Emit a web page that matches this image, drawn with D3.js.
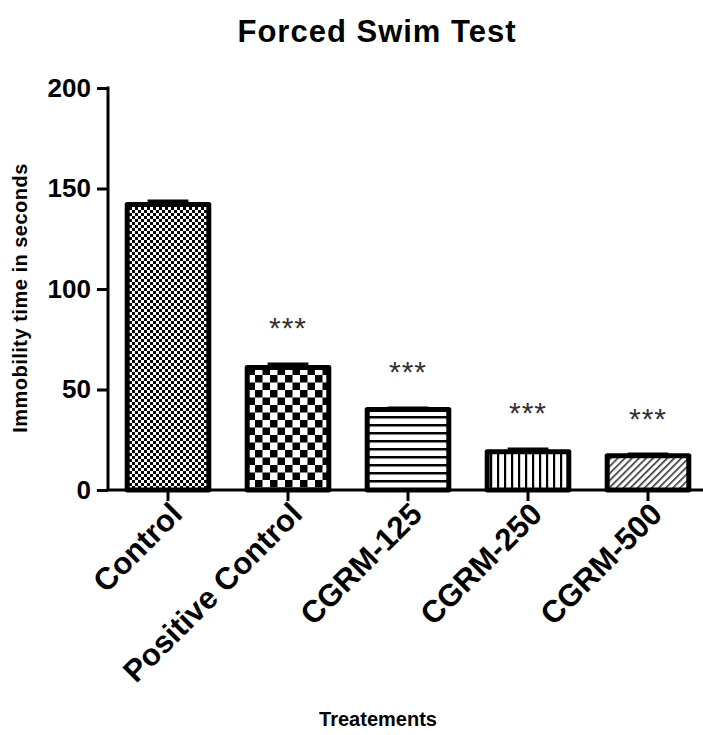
<!DOCTYPE html>
<html>
<head>
<meta charset="utf-8">
<script src="https://cdn.jsdelivr.net/npm/d3@7"></script>
<style>
  body { margin: 0; background: #fff; }
  svg { display: block; font-family: "Liberation Sans", Arial, sans-serif; }
</style>
</head>
<body>
<div id="chart"></div>
<script>
// data
const groups = ["Control", "Positive Control", "CGRM-125", "CGRM-250", "CGRM-500"];
const means = [142, 61, 40, 19, 17];
const errors = [1.5, 1.5, 0.6, 1.2, 0.6];
const stars = ["", "***", "***", "***", "***"];
const patterns = ["fineCheck", "bigCheck", "hLines", "vLines", "diag"];
const yTicks = [0, 50, 100, 150, 200];

const W = 703, H = 735;
const svg = d3.select("#chart").append("svg")
    .attr("width", W)
    .attr("height", H);

// fill patterns
const defs = svg.append("defs");
const fine = defs.append("pattern").attr("id", "fineCheck")
    .attr("patternUnits", "userSpaceOnUse").attr("width", 6).attr("height", 6);
fine.append("rect").attr("width", 6).attr("height", 6).attr("fill", "#fff");
fine.append("rect").attr("width", 3).attr("height", 3).attr("fill", "#000");
fine.append("rect").attr("x", 3).attr("y", 3).attr("width", 3).attr("height", 3).attr("fill", "#000");

const big = defs.append("pattern").attr("id", "bigCheck")
    .attr("patternUnits", "userSpaceOnUse").attr("width", 15).attr("height", 15);
big.append("rect").attr("width", 15).attr("height", 15).attr("fill", "#fff");
big.append("rect").attr("width", 7.5).attr("height", 7.5).attr("fill", "#000");
big.append("rect").attr("x", 7.5).attr("y", 7.5).attr("width", 7.5).attr("height", 7.5).attr("fill", "#000");

const hl = defs.append("pattern").attr("id", "hLines")
    .attr("patternUnits", "userSpaceOnUse").attr("width", 8).attr("height", 8);
hl.append("rect").attr("width", 8).attr("height", 8).attr("fill", "#fff");
hl.append("rect").attr("y", 0).attr("width", 8).attr("height", 2.5).attr("fill", "#000");

const vl = defs.append("pattern").attr("id", "vLines")
    .attr("patternUnits", "userSpaceOnUse").attr("width", 7).attr("height", 7);
vl.append("rect").attr("width", 7).attr("height", 7).attr("fill", "#fff");
vl.append("rect").attr("x", 0).attr("width", 2.2).attr("height", 7).attr("fill", "#000");

const dg = defs.append("pattern").attr("id", "diag")
    .attr("patternUnits", "userSpaceOnUse").attr("width", 5).attr("height", 5)
    .attr("patternTransform", "rotate(45)");
dg.append("rect").attr("width", 5).attr("height", 5).attr("fill", "#fff");
dg.append("rect").attr("width", 1.6).attr("height", 5).attr("fill", "#333");

// scales
const x = d3.scaleBand()
    .domain(groups)
    .range([108, 708])
    .paddingInner(0.32)
    .paddingOuter(0.16);

const y = d3.scaleLinear()
    .domain([0, 200])
    .range([490, 88]);

// bars
svg.selectAll(".bar")
    .data(groups)
    .enter()
    .append("rect")
    .attr("class", "bar")
    .attr("x", d => x(d))
    .attr("y", (d, i) => y(means[i]))
    .attr("width", x.bandwidth())
    .attr("height", (d, i) => y(0) - y(means[i]))
    .attr("fill", (d, i) => `url(#${patterns[i]})`)
    .attr("stroke", "#000")
    .attr("stroke-width", 5)
    .attr("stroke-linejoin", "round");

// error bars (upper only)
const cap = x.bandwidth() * 0.5;
groups.forEach((g, i) => {
    const cx = x(g) + x.bandwidth() / 2;
    svg.append("line")
        .attr("x1", cx).attr("x2", cx)
        .attr("y1", y(means[i])).attr("y2", y(means[i] + errors[i]))
        .attr("stroke", "#000").attr("stroke-width", 3);
    svg.append("line")
        .attr("x1", cx - cap / 2).attr("x2", cx + cap / 2)
        .attr("y1", y(means[i] + errors[i])).attr("y2", y(means[i] + errors[i]))
        .attr("stroke", "#000").attr("stroke-width", 4);
});

// significance stars
svg.selectAll(".star")
    .data(groups)
    .enter()
    .append("text")
    .attr("class", "star")
    .attr("x", d => x(d) + x.bandwidth() / 2)
    .attr("y", (d, i) => y(means[i] + errors[i]) - 26)
    .attr("text-anchor", "middle")
    .style("font-size", "30px")
    .style("fill", "#333")
    .style("letter-spacing", "1px")
    .text((d, i) => stars[i]);

// y axis
const yAxis = svg.append("g")
    .attr("transform", "translate(108,0)")
    .call(d3.axisLeft(y).tickValues(yTicks).tickSize(11).tickPadding(6).tickSizeOuter(0));
yAxis.select(".domain").attr("stroke-width", 3).attr("d", `M0,${y(200) - 1.5}V${y(0)}`);
yAxis.selectAll(".tick line").attr("stroke-width", 3);
yAxis.selectAll(".tick text")
    .style("font-size", "26px")
    .style("font-weight", "bold")
    .style("font-family", "'Liberation Sans', Arial, sans-serif")
    .attr("fill", "#000");

// x axis
const xAxis = svg.append("g")
    .attr("transform", `translate(0,${y(0)})`)
    .call(d3.axisBottom(x).tickSize(11).tickSizeOuter(0));
xAxis.select(".domain").attr("stroke-width", 3).attr("d", "M106.5,0H703");
xAxis.selectAll(".tick line").attr("stroke-width", 3);
xAxis.selectAll(".tick text")
    .style("font-size", "31px")
    .style("font-weight", "bold")
    .style("font-family", "'Liberation Sans', Arial, sans-serif")
    .attr("fill", "#000")
    .attr("text-anchor", "end")
    .attr("y", 0)
    .attr("dx", 0)
    .attr("dy", 0)
    .attr("transform", "translate(16,26) rotate(-45)");

// title
svg.append("text")
    .attr("x", 377)
    .attr("y", 42)
    .attr("text-anchor", "middle")
    .style("font-size", "31px")
    .style("font-weight", "bold")
    .style("letter-spacing", "1px")
    .text("Forced Swim Test");

// y axis title
svg.append("text")
    .attr("transform", "translate(27,298) rotate(-90)")
    .attr("text-anchor", "middle")
    .style("font-size", "20px")
    .style("font-weight", "bold")
    .style("letter-spacing", "0.5px")
    .text("Immobility time in seconds");

// x axis title
svg.append("text")
    .attr("x", 378)
    .attr("y", 726)
    .attr("text-anchor", "middle")
    .style("font-size", "20px")
    .style("font-weight", "bold")
    .text("Treatements");
</script>
</body>
</html>
